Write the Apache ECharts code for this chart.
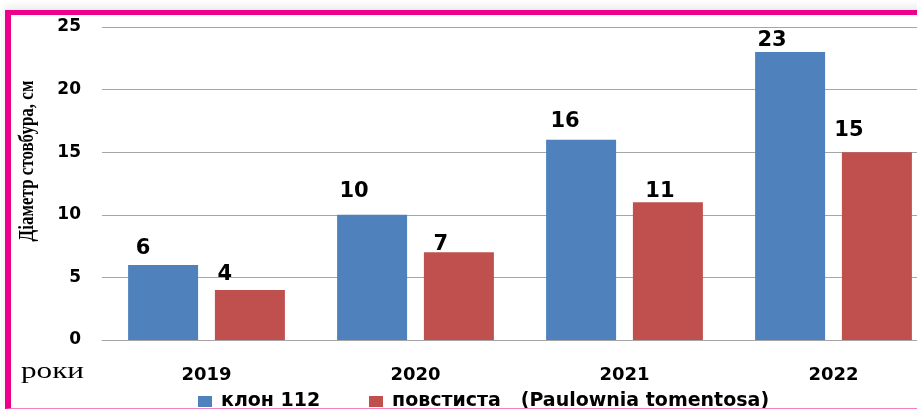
<!DOCTYPE html>
<html>
<head>
<meta charset="utf-8">
<script src="https://cdn.jsdelivr.net/npm/echarts@6/dist/echarts.min.js"></script>
<style>
  html, body { margin: 0; padding: 0; background: #ffffff; overflow: hidden; }
  /* the plot runs past the right edge of the window, like in the cropped original */
  #chart { width: 960px; height: 410px; }
  .frame {
    position: absolute;
    left: 5px;
    top: 10px;
    width: 1000px;
    height: 393px;
    border-top: 5px solid #ec008c;
    border-left: 6px solid #ec008c;
    border-bottom: 1px solid #f080c0;
    box-shadow: 0 -4px 8px rgba(0, 0, 0, 0.08);
    pointer-events: none;
  }
</style>
</head>
<body>
<div id="chart"></div>
<div class="frame"></div>
<script>
// years on the x axis
const years = ['2019', '2020', '2021', '2022']
// stem diameter, cm
const klonValues = [6, 10, 16, 23]
const povstValues = [4, 7, 11, 15]
const seriesNames = ['клон 112', 'повстиста   (Paulownia tomentosa)']

// label nudges [dx, dy] like in the original Excel picture
const klonLabelShift = [[-20, -6], [-18, -13], [-16, -8], [-18, -1]]
const povstLabelShift = [[-25, -5], [-18, 3], [-8, 0], [-28, -11]]

const labelFont = {
  fontFamily: 'DejaVu Sans',
  fontWeight: 'bold',
  fontSize: 21,
  color: '#000'
}
const legendFont = {
  fontFamily: 'DejaVu Sans',
  fontWeight: 'bold',
  fontSize: 19,
  color: '#000',
  padding: [0, 0, 0, 4]
}

const withLabels = (values, shifts) => values.map((v, i) => ({
  value: v,
  label: { offset: shifts[i] }
}))

var chartDom = document.getElementById('chart')
var myChart = echarts.init(chartDom)
var option

option = {
  backgroundColor: '#ffffff',
  animation: false,
  grid: {
    left: 102,
    top: 27,
    width: 836,
    height: 313
  },
  legend: [
    {
      data: [seriesNames[0]],
      left: 198,
      top: 392,
      padding: 0,
      icon: 'rect',
      itemWidth: 14,
      itemHeight: 11,
      textStyle: legendFont
    },
    {
      data: [seriesNames[1]],
      left: 369,
      top: 392,
      padding: 0,
      icon: 'rect',
      itemWidth: 14,
      itemHeight: 11,
      textStyle: legendFont
    }
  ],
  xAxis: {
    type: 'category',
    data: years,
    axisTick: { show: false },
    axisLine: { lineStyle: { color: '#a6a6a6', width: 1 } },
    axisLabel: {
      margin: 26,
      fontFamily: 'DejaVu Sans',
      fontWeight: 'bold',
      fontSize: 18,
      color: '#000'
    }
  },
  yAxis: {
    type: 'value',
    min: 0,
    max: 25,
    interval: 5,
    axisLine: { show: false },
    axisTick: { show: false },
    splitLine: { lineStyle: { color: '#a6a6a6', width: 1 } },
    axisLabel: {
      margin: 21,
      fontFamily: 'DejaVu Sans',
      fontWeight: 'bold',
      fontSize: 17,
      color: '#000'
    }
  },
  graphic: [
    {
      type: 'text',
      x: 28,
      y: 161,
      rotation: Math.PI / 2,
      scaleY: 1.25,
      style: {
        text: 'Діаметр стовбура, см',
        font: 'bold 17px "Liberation Serif"',
        fill: '#000',
        textAlign: 'center',
        textVerticalAlign: 'middle'
      }
    },
    {
      type: 'text',
      x: 21,
      y: 372,
      scaleX: 1.3,
      style: {
        text: 'роки',
        font: '24px "Liberation Serif"',
        fill: '#000',
        textAlign: 'left',
        textVerticalAlign: 'middle'
      }
    }
  ],
  series: [
    {
      name: seriesNames[0],
      type: 'bar',
      barWidth: 70,
      barGap: '24%',
      itemStyle: { color: '#4f81bd' },
      label: { show: true, position: 'top', distance: 0, ...labelFont },
      data: withLabels(klonValues, klonLabelShift)
    },
    {
      name: seriesNames[1],
      type: 'bar',
      barWidth: 70,
      itemStyle: { color: '#c0504d' },
      label: { show: true, position: 'top', distance: 0, ...labelFont },
      data: withLabels(povstValues, povstLabelShift)
    }
  ]
}
option && myChart.setOption(option)
</script>
</body>
</html>
